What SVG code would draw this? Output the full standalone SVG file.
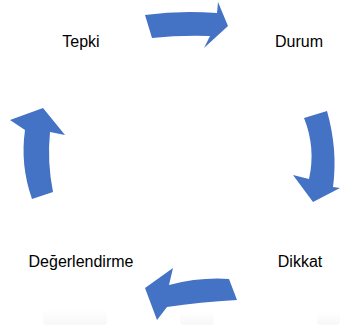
<svg xmlns="http://www.w3.org/2000/svg" width="340" height="325" viewBox="0 0 340 325">
<defs>
<style>
.arrow{fill:#4472C4;}
.lbl{font-family:"Liberation Sans",Arial,sans-serif;font-size:16px;fill:#000;}
</style>
<linearGradient id="refl" x1="0" y1="0" x2="0" y2="1">
<stop offset="0" stop-color="#ffffff"/>
<stop offset="1" stop-color="#f3f3f3"/>
</linearGradient>
</defs>
<rect width="340" height="325" fill="#fff"/>
<g id="reflections" opacity="0.6">
<rect x="43" y="310" width="64" height="15" rx="4" fill="url(#refl)"/>
<rect x="180" y="312" width="34" height="13" rx="4" fill="url(#refl)"/>
<rect x="317" y="312" width="23" height="13" rx="4" fill="url(#refl)"/>
</g>
<g id="connectors">
<path class="arrow" d="M145,15 Q180,10 217,13 L218,2 L228,26 L204,48 L210,36 Q180,35 152,38 Z"/>
<path class="arrow" d="M304,118 L327,111 Q338,150 333,187 L340,188 L313,202 L293,175 L309,179 Q316,148 304,118 Z"/>
<path class="arrow" d="M229,279 L237,300 Q200,302 167,307 L157,320 L145,288 L173,268 L169,285 Q200,277 229,279 Z"/>
<path class="arrow" d="M32,199 Q20,165 25,130 L10,120 L43,108 L65,135 L50,132 Q47,162 53,192 Z"/>
</g>
<g id="node-tepki"><text class="lbl" x="81" y="47" text-anchor="middle">Tepki</text></g>
<g id="node-durum"><text class="lbl" x="299" y="47" text-anchor="middle">Durum</text></g>
<g id="node-dikkat"><text class="lbl" x="300" y="267" text-anchor="middle">Dikkat</text></g>
<g id="node-degerlendirme"><text class="lbl" x="81" y="267" text-anchor="middle">Değerlendirme</text></g>
</svg>
